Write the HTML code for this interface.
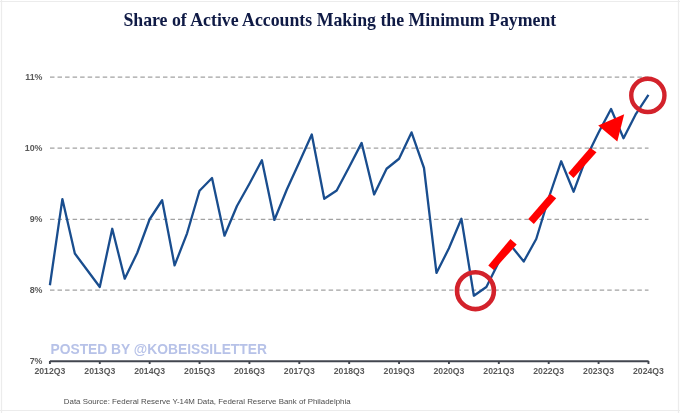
<!DOCTYPE html>
<html><head><meta charset="utf-8"><style>
html,body{margin:0;padding:0;background:#fff;}
body{width:680px;height:413px;overflow:hidden;position:relative;}
svg{position:absolute;left:0;top:0;will-change:transform;}
.g{stroke:#a2a2a2;stroke-width:1.3;stroke-dasharray:4.5 3.03;}
.ax{stroke:#42464f;stroke-width:1.9;}
.yl{font:bold 8.9px "Liberation Sans",sans-serif;fill:#5a5a5a;text-anchor:end;}
.xl{font:bold 8.7px "Liberation Sans",sans-serif;fill:#5a5a5a;text-anchor:middle;}
</style></head><body>
<svg width="680" height="413" viewBox="0 0 680 413">
<g stroke="#ececec" stroke-width="1.2"><line x1="0" y1="1.5" x2="680" y2="1.5"/><line x1="1.5" y1="0" x2="1.5" y2="413"/><line x1="678.5" y1="0" x2="678.5" y2="413"/><line x1="0" y1="410.5" x2="680" y2="410.5"/></g>
<text x="339.8" y="25.6" style="font:bold 17.8px 'Liberation Serif',serif;fill:#0f1a45;text-anchor:middle">Share of Active Accounts Making the Minimum Payment</text>
<line x1="50" y1="77.2" x2="648.5" y2="77.2" class="g"/>
<line x1="50" y1="148.2" x2="648.5" y2="148.2" class="g"/>
<line x1="50" y1="219.3" x2="648.5" y2="219.3" class="g"/>
<line x1="50" y1="290.2" x2="648.5" y2="290.2" class="g"/>

<text x="50.5" y="354.3" style="font:bold 13.8px 'Liberation Sans',sans-serif;fill:#b7c2e8">POSTED BY @KOBEISSILETTER</text>
<line x1="49.9" y1="361.3" x2="648.6" y2="361.3" class="ax"/>
<line x1="49.90" y1="361" x2="49.90" y2="364" class="ax"/>
<line x1="99.78" y1="361" x2="99.78" y2="364" class="ax"/>
<line x1="149.66" y1="361" x2="149.66" y2="364" class="ax"/>
<line x1="199.54" y1="361" x2="199.54" y2="364" class="ax"/>
<line x1="249.42" y1="361" x2="249.42" y2="364" class="ax"/>
<line x1="299.30" y1="361" x2="299.30" y2="364" class="ax"/>
<line x1="349.18" y1="361" x2="349.18" y2="364" class="ax"/>
<line x1="399.06" y1="361" x2="399.06" y2="364" class="ax"/>
<line x1="448.94" y1="361" x2="448.94" y2="364" class="ax"/>
<line x1="498.82" y1="361" x2="498.82" y2="364" class="ax"/>
<line x1="548.70" y1="361" x2="548.70" y2="364" class="ax"/>
<line x1="598.58" y1="361" x2="598.58" y2="364" class="ax"/>
<line x1="648.46" y1="361" x2="648.46" y2="364" class="ax"/>

<text x="42.5" y="80.3" class="yl">11%</text>
<text x="42.5" y="151.29999999999998" class="yl">10%</text>
<text x="42.5" y="222.4" class="yl">9%</text>
<text x="42.5" y="293.3" class="yl">8%</text>
<text x="42.5" y="364.3" class="yl">7%</text>

<text x="49.90" y="374.2" class="xl">2012Q3</text>
<text x="99.78" y="374.2" class="xl">2013Q3</text>
<text x="149.66" y="374.2" class="xl">2014Q3</text>
<text x="199.54" y="374.2" class="xl">2015Q3</text>
<text x="249.42" y="374.2" class="xl">2016Q3</text>
<text x="299.30" y="374.2" class="xl">2017Q3</text>
<text x="349.18" y="374.2" class="xl">2018Q3</text>
<text x="399.06" y="374.2" class="xl">2019Q3</text>
<text x="448.94" y="374.2" class="xl">2020Q3</text>
<text x="498.82" y="374.2" class="xl">2021Q3</text>
<text x="548.70" y="374.2" class="xl">2022Q3</text>
<text x="598.58" y="374.2" class="xl">2023Q3</text>
<text x="648.46" y="374.2" class="xl">2024Q3</text>

<polyline points="49.90,285.25 62.37,199.05 74.84,253.5 87.31,270.2 99.78,286.95 112.25,228.75 124.72,278.7 137.19,253.0 149.66,219.25 162.13,200.25 174.60,265.45 187.07,233.3 199.54,190.75 212.01,178.05 224.48,235.7 236.95,206.0 249.42,183.75 261.89,160.3 274.36,219.95 286.83,189.5 299.30,162.3 311.77,134.5 324.24,198.75 336.71,190.5 349.18,167.0 361.65,142.9 374.12,194.45 386.59,168.75 399.06,158.75 411.53,132.4 424.00,168.0 436.47,272.95 448.94,248.3 461.41,218.8 473.88,295.7 486.35,287.0 498.82,262.0 511.29,246.0 523.76,261.5 536.23,239.0 548.70,198.0 561.17,161.3 573.64,191.7 586.11,158.0 598.58,132.5 611.05,109.0 623.52,138.2 635.99,113.8 648.46,94.8" fill="none" stroke="#194d8e" stroke-width="2.3" stroke-linejoin="round"/>
<circle cx="475.45" cy="290.65" r="18.45" fill="none" stroke="#d3222b" stroke-width="4.6"/>
<circle cx="647.85" cy="95.4" r="16.6" fill="none" stroke="#d3222b" stroke-width="4.4"/>
<polygon points="488.3,265.4 510.4,239.1 516.7,244.5 493.7,270" fill="#f00"/>
<polygon points="528.3,218.9 550.1,193.7 556.2,198.3 533.8,224" fill="#f00"/>
<polygon points="568.3,173.1 590.1,147.7 596.5,152.3 573.5,178" fill="#f00"/>
<polygon points="598.2,125.4 624.2,114.3 617.3,141.5" fill="#f00"/>
<text x="63.8" y="403.7" style="font:7.9px 'Liberation Sans',sans-serif;fill:#4d4d4d">Data Source: Federal Reserve Y-14M Data, Federal Reserve Bank of Philadelphia</text>
</svg>
</body></html>
